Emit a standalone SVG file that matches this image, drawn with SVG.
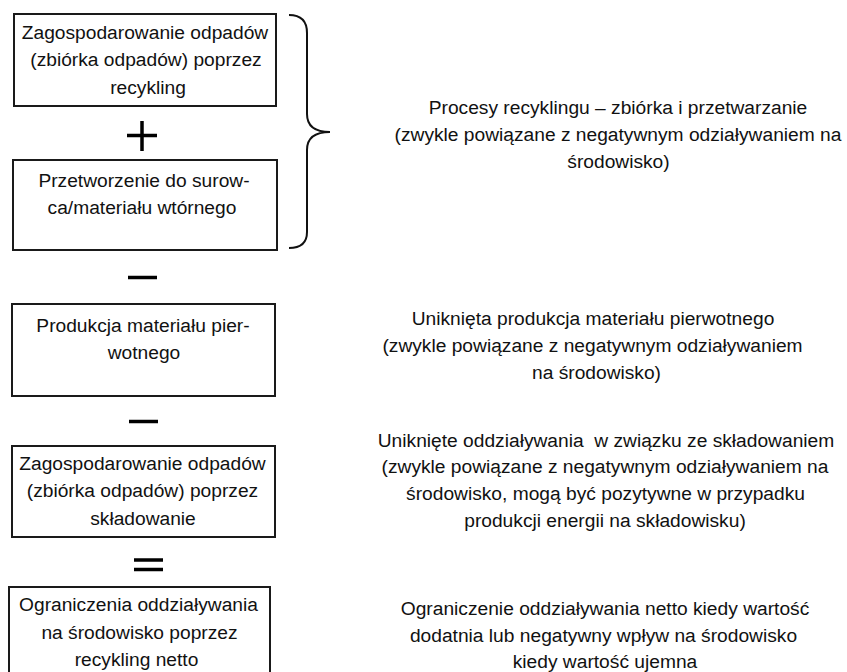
<svg xmlns="http://www.w3.org/2000/svg" width="847" height="672" viewBox="0 0 847 672">
  <style>
    .box { fill: #ffffff; stroke: #1a1a1a; stroke-width: 2; }
    .label { font-family: "Liberation Sans", Arial, sans-serif; font-size: 19.2px; fill: #111111; text-anchor: middle; white-space: pre; }
    .op { stroke: #000000; stroke-width: 3.5; fill: none; }
    .brace { stroke: #111111; stroke-width: 2; fill: none; }
  </style>
  <rect width="847" height="672" fill="#ffffff"/>

  <!-- left column: calculation steps -->
  <g id="node-collection-recycling">
    <rect class="box" x="14" y="14" width="262" height="92"/>
    <text class="label" x="145" y="38.5">Zagospodarowanie odpadów</text>
    <text class="label" x="146" y="66">(zbiórka odpadów) poprzez</text>
    <text class="label" x="148" y="93.5">recykling</text>
  </g>

  <g id="node-reprocessing">
    <rect class="box" x="13" y="160" width="264" height="90"/>
    <text class="label" x="144" y="187">Przetworzenie do surow-</text>
    <text class="label" x="142" y="214">ca/materiału wtórnego</text>
  </g>

  <g id="node-primary-production">
    <rect class="box" x="12" y="304" width="263" height="92"/>
    <text class="label" x="143" y="331.5">Produkcja materiału pier-</text>
    <text class="label" x="144" y="358.5">wotnego</text>
  </g>

  <g id="node-landfill">
    <rect class="box" x="12" y="446" width="263" height="91"/>
    <text class="label" x="142.5" y="469.5">Zagospodarowanie odpadów</text>
    <text class="label" x="142.5" y="497">(zbiórka odpadów) poprzez</text>
    <text class="label" x="143" y="524.5">składowanie</text>
  </g>

  <g id="node-net-result">
    <rect class="box" x="9" y="587" width="261" height="100"/>
    <text class="label" x="138.5" y="611">Ograniczenia oddziaływania</text>
    <text class="label" x="139.5" y="638.5">na środowisko poprzez</text>
    <text class="label" x="136.5" y="666">recykling netto</text>
  </g>

  <!-- operators and the brace joining the first two steps -->
  <g id="connectors">
    <path class="op" d="M127,135.5 H157 M142,121 V151"/>
    <path class="op" d="M128,277.5 H157"/>
    <path class="op" d="M129,421.5 H158"/>
    <path class="op" d="M134,560 H163 M134,569.5 H163"/>
    <path class="brace" d="M289,15 C301,15 307,21 307,33 L307,114 C307,126 314,132 330,132 C314,132 307,139 307,150 L307,232 C307,243 301,248 289,248"/>
  </g>

  <!-- right column: explanations -->
  <g id="note-recycling-processes">
    <text class="label" x="618" y="113.5">Procesy recyklingu – zbiórka i przetwarzanie</text>
    <text class="label" x="618" y="140.5">(zwykle powiązane z negatywnym odziaływaniem na</text>
    <text class="label" x="618.5" y="167.5">środowisko)</text>
  </g>

  <g id="note-avoided-production">
    <text class="label" x="593" y="325">Uniknięta produkcja materiału pierwotnego</text>
    <text class="label" x="592.5" y="352">(zwykle powiązane z negatywnym odziaływaniem</text>
    <text class="label" x="596.5" y="378.5">na środowisko)</text>
  </g>

  <g id="note-avoided-landfill">
    <text class="label" x="606" y="446.5">Uniknięte oddziaływania  w związku ze składowaniem</text>
    <text class="label" x="605" y="473">(zwykle powiązane z negatywnym odziaływaniem na</text>
    <text class="label" x="605.5" y="500">środowisko, mogą być pozytywne w przypadku</text>
    <text class="label" x="605" y="526.5">produkcji energii na składowisku)</text>
  </g>

  <g id="note-net-result">
    <text class="label" x="605" y="615">Ograniczenie oddziaływania netto kiedy wartość</text>
    <text class="label" x="603.5" y="641.5">dodatnia lub negatywny wpływ na środowisko</text>
    <text class="label" x="605" y="668">kiedy wartość ujemna</text>
  </g>
</svg>
